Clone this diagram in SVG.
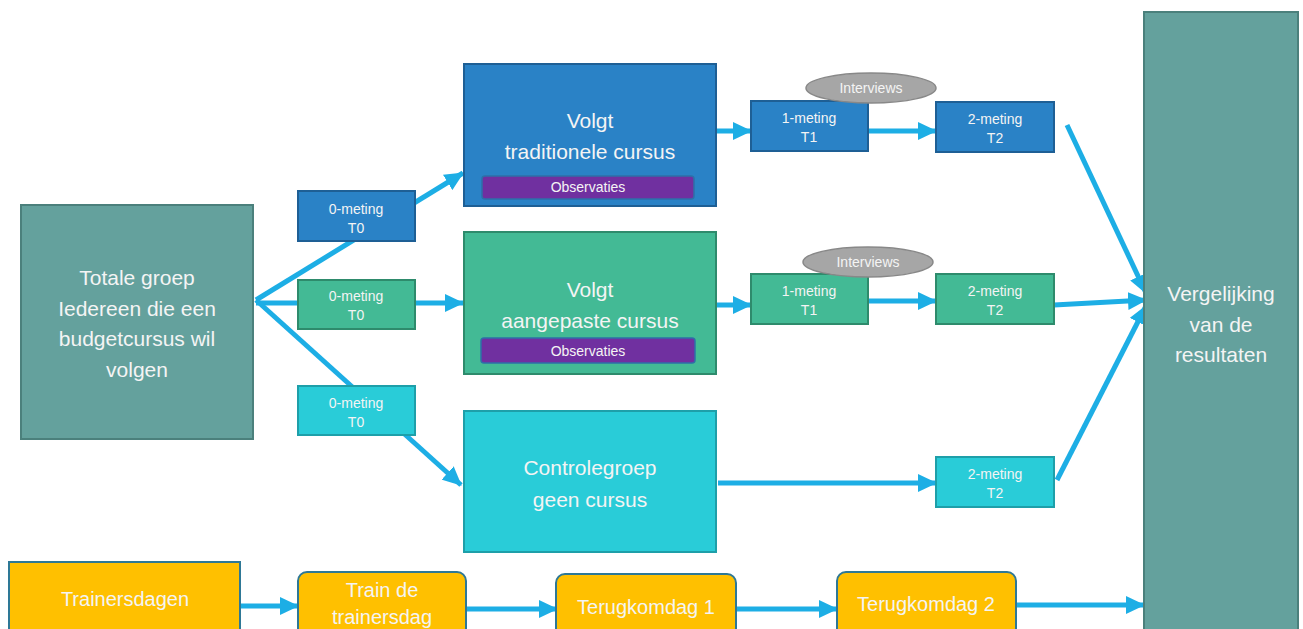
<svg xmlns="http://www.w3.org/2000/svg" width="1303" height="629" viewBox="0 0 1303 629">
<defs>
<marker id="ah" markerUnits="userSpaceOnUse" markerWidth="20" markerHeight="18" refX="18" refY="9" orient="auto">
<path d="M0,0 L19,9 L0,18 z" fill="#1DAEE5"/>
</marker>
<style>
text{font-family:"Liberation Sans",Arial,sans-serif;fill:#F4F4F4;text-anchor:middle}
.big{font-size:21px}
.sm{font-size:14px}
.mid{font-size:20px}
.conn{stroke:#1DAEE5;stroke-width:5;fill:none;marker-end:url(#ah)}
.teal{fill:#64A19D;stroke:#4B807C;stroke-width:2}
.blue{fill:#2A82C6;stroke:#1E5F95;stroke-width:2}
.green{fill:#43BA95;stroke:#2E8B6C;stroke-width:2}
.cyan{fill:#29CCD8;stroke:#1E9FA9;stroke-width:2}
.obs{fill:#7030A0;stroke:#2E6FA8;stroke-width:1.5}
.int{fill:#A6A6A6;stroke:#888;stroke-width:1.5}
.yel{fill:#FFC000;stroke:#2E7896;stroke-width:2}
</style>
</defs>
<g id="connectors">
<line class="conn" x1="256" y1="300" x2="463" y2="173"/>
<line class="conn" x1="256" y1="303" x2="463" y2="303"/>
<line class="conn" x1="256" y1="300" x2="461" y2="485"/>
<line class="conn" x1="716" y1="131" x2="751" y2="131"/>
<line class="conn" x1="868" y1="131" x2="936" y2="131"/>
<line class="conn" x1="716" y1="305" x2="751" y2="305"/>
<line class="conn" x1="868" y1="301" x2="936" y2="301"/>
<line class="conn" x1="718" y1="483" x2="936" y2="483"/>
<line class="conn" x1="1067" y1="125" x2="1146" y2="293"/>
<line class="conn" x1="1054" y1="305" x2="1146" y2="300"/>
<line class="conn" x1="1057" y1="480" x2="1146" y2="306"/>
<line class="conn" x1="240" y1="606" x2="298" y2="606"/>
<line class="conn" x1="466" y1="609" x2="557" y2="609"/>
<line class="conn" x1="736" y1="609" x2="837" y2="609"/>
<line class="conn" x1="1016" y1="605" x2="1144" y2="605"/>
</g>
<g id="totale">
<rect class="teal" x="21" y="205" width="232" height="234"/>
<text class="big" x="137" y="285">Totale groep</text>
<text class="big" x="137" y="316">Iedereen die een</text>
<text class="big" x="137" y="346">budgetcursus wil</text>
<text class="big" x="137" y="377">volgen</text>
</g>
<g id="t0a">
<rect class="blue" x="298" y="191" width="117" height="50"/>
<text class="sm" x="356" y="214">0-meting</text>
<text class="sm" x="356" y="233">T0</text>
</g>
<g id="t0b">
<rect class="green" x="298" y="280" width="117" height="49"/>
<text class="sm" x="356" y="301">0-meting</text>
<text class="sm" x="356" y="320">T0</text>
</g>
<g id="t0c">
<rect class="cyan" x="298" y="386" width="117" height="49"/>
<text class="sm" x="356" y="408">0-meting</text>
<text class="sm" x="356" y="427">T0</text>
</g>
<g id="trad">
<rect class="blue" x="464" y="64" width="252" height="142"/>
<text class="big" x="590" y="128">Volgt</text>
<text class="big" x="590" y="159">traditionele cursus</text>
<rect class="obs" x="482" y="176" width="212" height="23" rx="3"/>
<text class="sm" x="588" y="192">Observaties</text>
</g>
<g id="aang">
<rect class="green" x="464" y="232" width="252" height="142"/>
<text class="big" x="590" y="297">Volgt</text>
<text class="big" x="590" y="328">aangepaste cursus</text>
<rect class="obs" x="481" y="338" width="214" height="25" rx="3"/>
<text class="sm" x="588" y="356">Observaties</text>
</g>
<g id="controle">
<rect class="cyan" x="464" y="411" width="252" height="141"/>
<text class="big" x="590" y="475">Controlegroep</text>
<text class="big" x="590" y="507">geen cursus</text>
</g>
<g id="t1a">
<rect class="blue" x="751" y="101" width="117" height="50"/>
<text class="sm" x="809" y="123">1-meting</text>
<text class="sm" x="809" y="142">T1</text>
</g>
<g id="int1">
<ellipse class="int" cx="871" cy="88" rx="65" ry="15"/>
<text class="sm" x="871" y="93">Interviews</text>
</g>
<g id="t2a">
<rect class="blue" x="936" y="102" width="118" height="50"/>
<text class="sm" x="995" y="124">2-meting</text>
<text class="sm" x="995" y="143">T2</text>
</g>
<g id="t1b">
<rect class="green" x="751" y="274" width="117" height="50"/>
<text class="sm" x="809" y="296">1-meting</text>
<text class="sm" x="809" y="315">T1</text>
</g>
<g id="int2">
<ellipse class="int" cx="868" cy="262" rx="65" ry="15"/>
<text class="sm" x="868" y="267">Interviews</text>
</g>
<g id="t2b">
<rect class="green" x="936" y="274" width="118" height="50"/>
<text class="sm" x="995" y="296">2-meting</text>
<text class="sm" x="995" y="315">T2</text>
</g>
<g id="t2c">
<rect class="cyan" x="936" y="457" width="118" height="50"/>
<text class="sm" x="995" y="479">2-meting</text>
<text class="sm" x="995" y="498">T2</text>
</g>
<g id="vergelijking">
<rect class="teal" x="1144" y="12" width="154" height="630"/>
<text class="big" x="1221" y="301">Vergelijking</text>
<text class="big" x="1221" y="332">van de</text>
<text class="big" x="1221" y="362">resultaten</text>
</g>
<g id="trainersdagen">
<rect class="yel" x="9" y="562" width="231" height="80"/>
<text class="mid" x="125" y="606">Trainersdagen</text>
</g>
<g id="trainde">
<rect class="yel" x="298" y="572" width="168" height="70" rx="9"/>
<text class="mid" x="382" y="597">Train de</text>
<text class="mid" x="382" y="624">trainersdag</text>
</g>
<g id="terug1">
<rect class="yel" x="556" y="574" width="180" height="68" rx="9"/>
<text class="mid" x="646" y="614">Terugkomdag 1</text>
</g>
<g id="terug2">
<rect class="yel" x="837" y="572" width="179" height="70" rx="9"/>
<text class="mid" x="926" y="611">Terugkomdag 2</text>
</g>
</svg>
